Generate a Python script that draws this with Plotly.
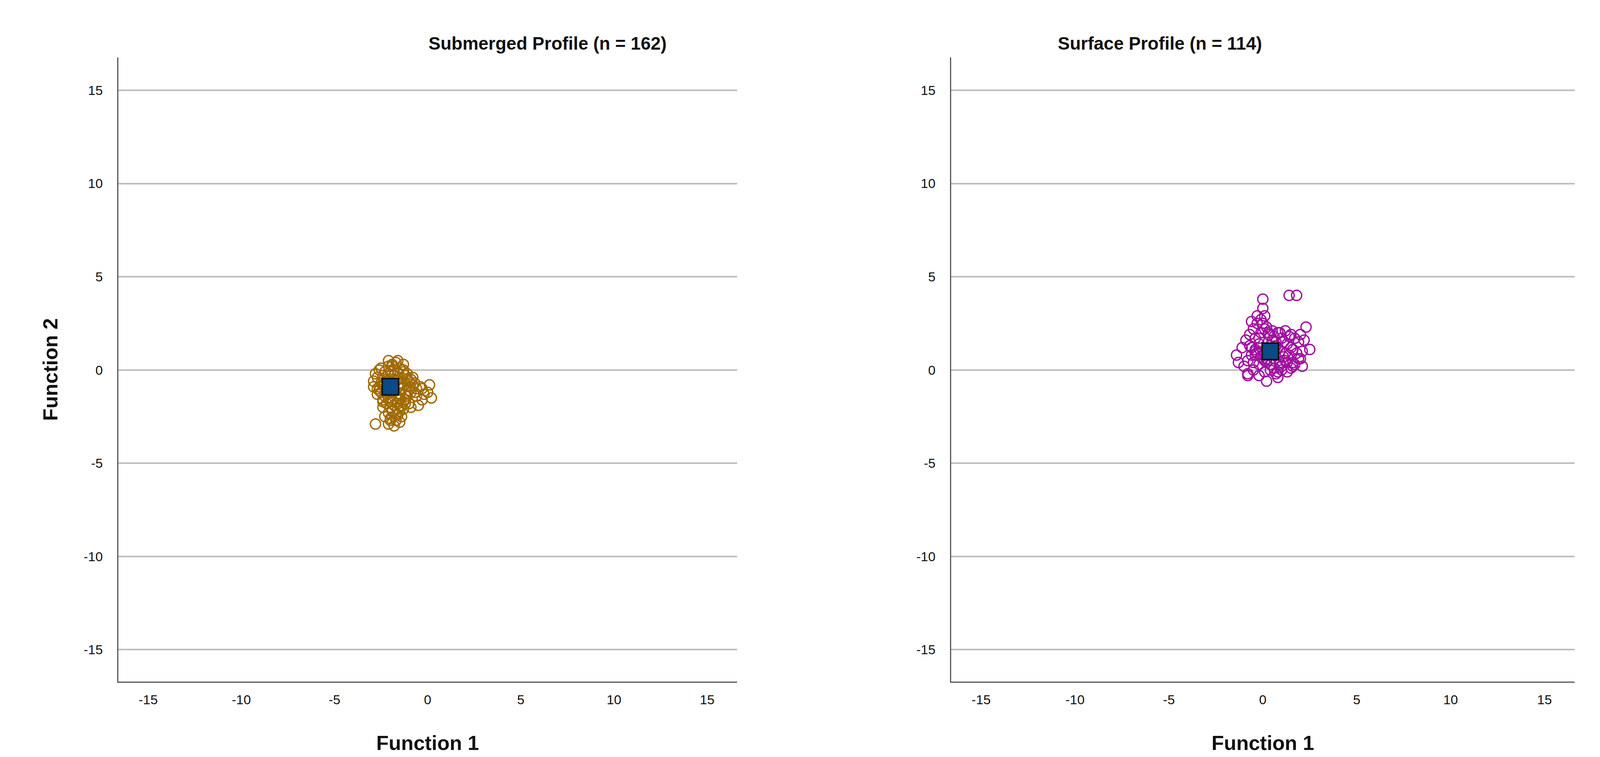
import plotly.graph_objects as go
from plotly.subplots import make_subplots

sub_x = [-2.8,-2.6,-2.5,-2.3,-2.1,-1.9,-1.7,-1.5,-1.3,-1.1,-0.9,-0.7,-2.9,-2.7,-2.4,-2.2,-2.0,-1.8,-1.6,-1.4,-1.2,-1.0,-0.8,
         -2.6,-2.4,-2.2,-2.0,-1.8,-1.6,-1.4,-1.2,-1.0,-2.7,-2.5,-2.3,-2.1,-1.9,-1.7,-1.5,-1.3,-1.1,-0.9,-0.6,-0.4,
         -2.2,-2.0,-1.8,-1.6,-1.4,-1.2,-2.4,-2.1,-1.9,-1.7,-1.5,-1.3,-2.3,-2.0,-1.7,-1.4,-2.1,-1.8,-1.5,-2.0,-1.6,
         -0.3,0.1,0.2,-0.2,-0.5,0.0,-0.3,-2.8,-2.1,-1.9,-1.6,-1.3,-2.5,-2.2,-1.8,-1.5,-1.1,-0.8,-2.9,-2.6,-2.3,
         -2.0,-1.7,-1.4,-1.0,-0.7,-2.4,-2.0,-1.6,-1.2,-2.2,-1.9,-1.5,-1.8,-2.1,-1.3,-1.0,-0.6,-0.9,-2.7,-2.4]
sub_y = [-0.2,0.0,0.1,-0.1,0.2,0.3,0.4,0.1,0.0,-0.2,-0.5,-0.7,-0.6,-0.4,-0.3,-0.5,-0.1,0.0,-0.2,-0.4,-0.3,-0.6,-0.8,
         -0.9,-0.8,-1.0,-1.2,-1.1,-0.9,-1.0,-1.3,-1.1,-1.3,-1.2,-1.4,-1.5,-1.6,-1.4,-1.5,-1.7,-1.4,-1.2,-1.0,-0.9,
         -1.8,-2.0,-1.9,-2.1,-1.9,-1.8,-2.0,-2.3,-2.2,-2.4,-2.2,-2.1,-2.5,-2.6,-2.7,-2.5,-2.9,-3.0,-2.8,-2.7,-2.4,
         -1.0,-0.8,-1.5,-1.3,-1.9,-1.2,-1.6,-2.9,0.5,0.2,0.5,0.3,-0.7,-0.6,-0.5,-0.7,-0.5,-0.4,-0.9,-1.1,-0.8,
         -0.7,-0.6,-0.7,-0.9,-1.2,-1.6,-1.7,-1.8,-1.6,-1.3,-1.2,-1.3,-0.3,-0.2,-0.1,-1.8,-1.4,-2.0,-1.0,-1.7]
sur_x = [-1.0,-0.8,-0.6,-0.4,-0.2,0.0,0.2,0.4,0.6,0.8,1.0,1.2,1.4,1.6,1.8,2.0,-0.9,-0.7,-0.5,-0.3,-0.1,0.1,0.3,0.5,0.7,0.9,
         1.1,1.3,1.5,1.7,1.9,2.1,-1.1,-0.8,-0.5,-0.2,0.1,0.4,0.7,1.0,1.3,1.6,1.9,-0.7,-0.4,-0.1,0.2,0.5,0.8,1.1,1.4,1.7,
         -0.6,-0.3,0.0,0.3,0.6,0.9,1.2,1.5,-0.5,-0.2,0.1,0.4,0.7,1.0,1.3,-0.4,-0.1,0.2,0.5,0.8,-0.3,0.0,0.3,0.6,0.9,1.2,
         0.0,0.0,0.1,1.4,1.8,2.3,2.5,2.2,-1.4,-1.3,2.0,1.5,0.9,-0.8,-0.6,0.2,-0.4,0.6,1.6,2.1,0.8,-0.2]
sur_y = [0.2,0.5,0.8,1.1,1.4,1.0,0.6,0.3,0.1,-0.1,0.2,0.5,0.8,1.1,0.9,0.6,1.6,1.9,2.2,2.5,2.7,2.2,1.9,1.6,1.3,1.0,
         0.7,0.4,0.1,0.3,0.6,1.0,1.2,-0.2,0.0,-0.3,-0.1,0.0,-0.2,0.0,-0.1,0.2,1.5,1.3,1.0,0.7,0.4,0.9,1.2,1.5,1.8,1.7,
         2.6,2.9,2.5,2.0,1.8,2.0,2.1,1.9,0.4,0.3,0.5,1.3,1.5,1.7,1.4,1.7,2.0,2.3,2.1,2.0,0.9,0.6,0.8,0.6,0.4,0.9,
         3.8,3.3,2.9,4.0,4.0,2.3,1.1,1.6,0.8,0.4,1.9,1.2,0.3,-0.3,1.2,-0.6,0.8,1.1,0.4,0.2,-0.4,1.7]
centroids_x = [-2.0, 0.4]
centroids_y = [-0.9, 1.0]
titles = ["Submerged Profile (n = 162)", "Surface Profile (n = 114)"]
ticks = [-15, -10, -5, 0, 5, 10, 15]
tick_labels = ["-15", "-10", "-5", "0", "5", "10", "15"]

fig = make_subplots(rows=1, cols=2)
for i, (xs, ys, col) in enumerate([(sub_x, sub_y, "#A06A00"), (sur_x, sur_y, "#A010A0")]):
    fig.add_trace(go.Scatter(x=xs, y=ys, mode="markers",
        marker=dict(symbol="circle-open", size=26, color=col, line=dict(width=3.5))), 1, i+1)
    fig.add_trace(go.Scatter(x=[centroids_x[i]], y=[centroids_y[i]], mode="markers",
        marker=dict(symbol="square", size=42, color="#0A4A85", line=dict(color="#111111", width=4))), 1, i+1)

fig.update_layout(width=4184, height=1937, plot_bgcolor="white", paper_bgcolor="white", showlegend=False,
                  margin=dict(l=0, r=0, t=0, b=0), font=dict(family="Liberation Sans", color="#111"))
fig.update_xaxes(range=[-16.6, 16.6], tickvals=ticks, ticktext=tick_labels, showgrid=False, zeroline=False,
                 showline=True, linecolor="#555", linewidth=3, ticks="", tickfont=dict(size=34),
                 ticklabelstandoff=15,
                 title=dict(text="<b>Function 1</b>", font=dict(size=52), standoff=75))
fig.update_yaxes(range=[-16.7, 16.75], tickvals=ticks, ticktext=tick_labels, showgrid=True, gridcolor="#BDBDBD",
                 gridwidth=4, zeroline=False, showline=True, linecolor="#555", linewidth=3, ticks="",
                 tickfont=dict(size=34), ticklabelstandoff=30, domain=[0.104, 0.928])
fig.update_yaxes(title=dict(text="<b>Function 2</b>", font=dict(size=52), standoff=50), row=1, col=1)
fig.layout.xaxis.domain = [0.0705, 0.449]
fig.layout.xaxis2.domain = [0.580, 0.9615]
for i, t in enumerate(titles):
    d = [fig.layout.xaxis.domain, fig.layout.xaxis2.domain][i]
    fig.add_annotation(text=f"<b>{t}</b>", x=(d[0]+d[1])/2, y=0.947, xref="paper", yref="paper",
                       yanchor="middle", showarrow=False, font=dict(size=46))
fig.write_html("out.html")
